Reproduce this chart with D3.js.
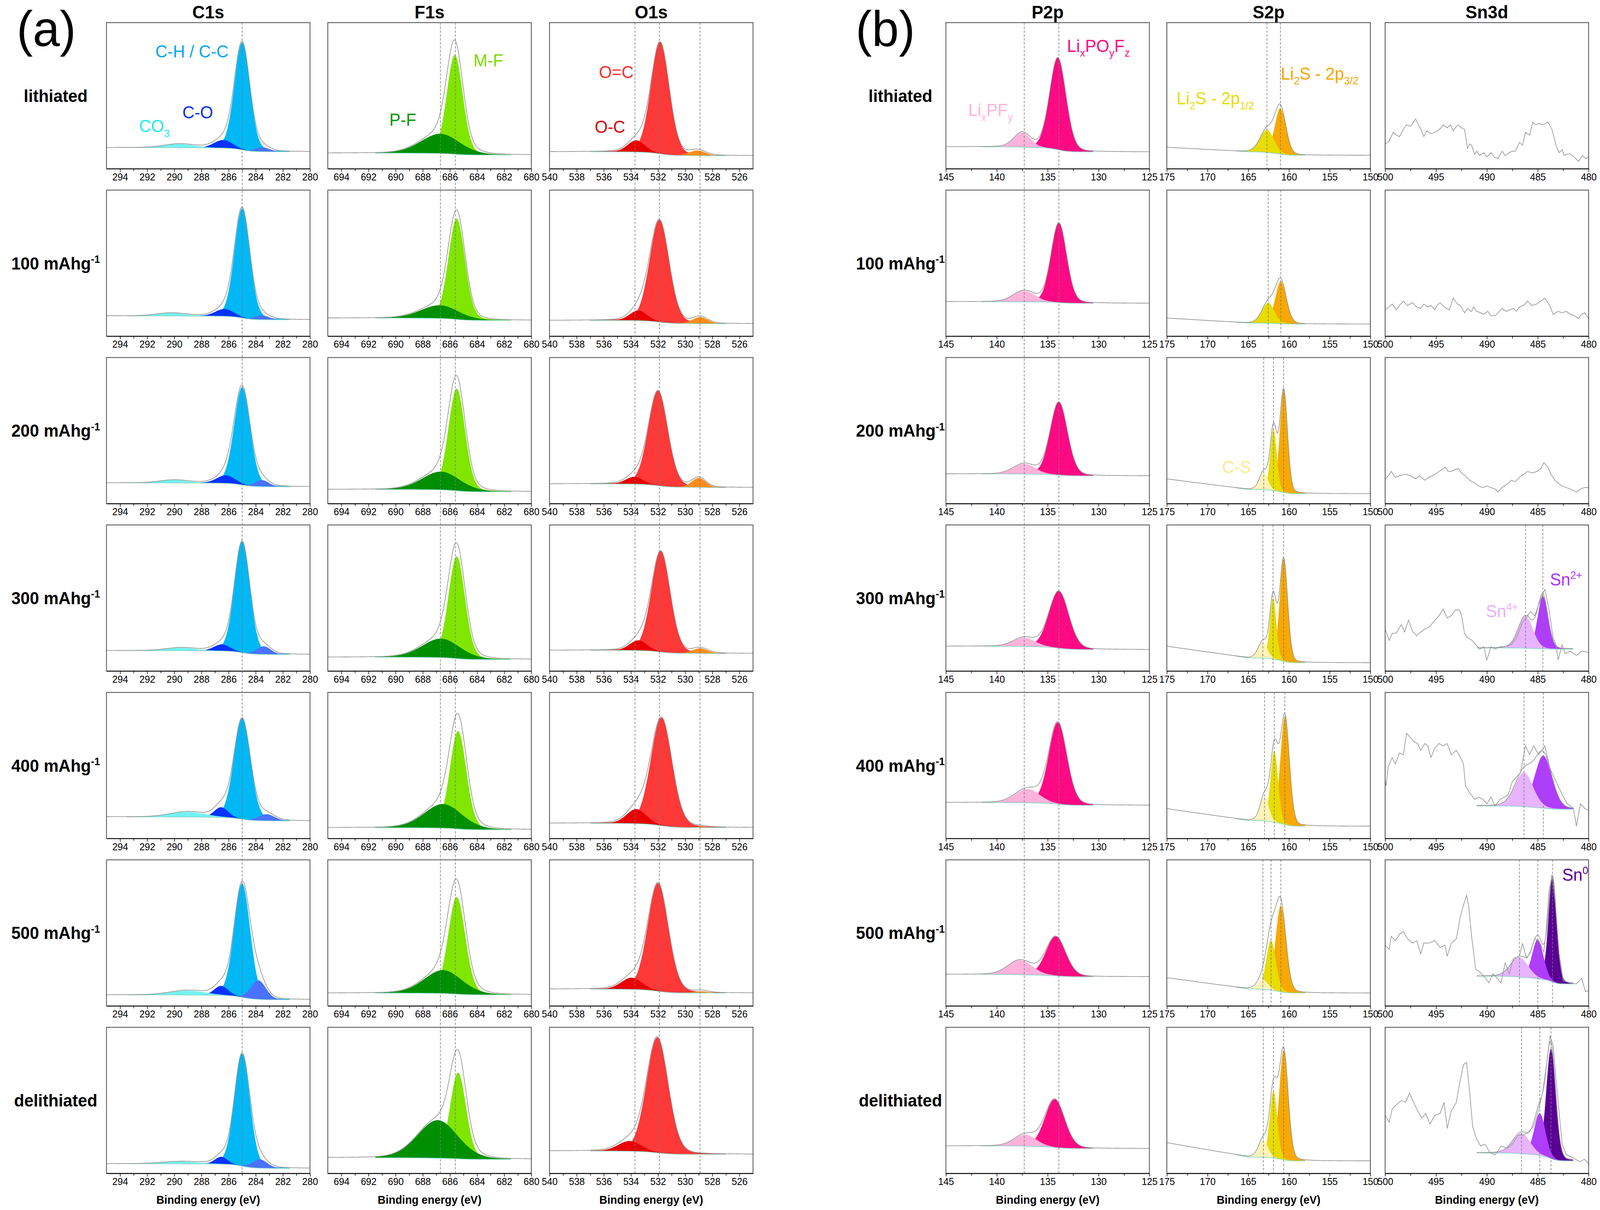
<!DOCTYPE html>
<html lang="en">
<head>
<meta charset="utf-8">
<title>XPS spectra</title>
<script src="https://d3js.org/d3.v7.min.js"></script>
<style>
  html, body { margin: 0; padding: 0; width: 100%; height: 100%; background: #fff; overflow: hidden; }
</style>
</head>
<body>
<script>
// ---------------- data (intensities normalised to panel height, 0 = axis, 1 = top) ----------------

const rowLabels = ["lithiated", "100", "200", "300", "400", "500", "delithiated"];

// C1s : [C-H/C-C, C-O, CO3, low-BE shoulder]  each [centre eV, height, fwhm]
const c1sDomain = [295, 280];
const c1sTicks = [294, 292, 290, 288, 286, 284, 282, 280];
const c1sFit = [293.5, 281.5];
const c1sRefs = [285.0];
const c1sPeaks = [
  [[285.0, 0.735, 1.35], [286.4, 0.055, 1.6], [289.6, 0.025, 2.6], [283.5, 0.03, 1.2]],
  [[285.0, 0.75, 1.35], [286.3, 0.05, 1.6], [290.2, 0.02, 2.5], [283.55, 0.03, 1.2]],
  [[285.0, 0.67, 1.4], [286.2, 0.055, 1.6], [290.0, 0.02, 2.5], [283.55, 0.045, 1.2]],
  [[285.0, 0.76, 1.35], [286.5, 0.045, 1.4], [289.5, 0.02, 2.6], [283.4, 0.055, 1.2]],
  [[285.0, 0.69, 1.45], [286.55, 0.07, 1.2], [289.0, 0.035, 3.0], [283.2, 0.045, 1.4]],
  [[285.0, 0.78, 1.4], [286.55, 0.065, 1.2], [289.0, 0.03, 3.0], [283.8, 0.13, 1.3]],
  [[285.0, 0.77, 1.35], [286.55, 0.05, 1.1], [289.5, 0.015, 3.2], [283.7, 0.06, 1.3]]
];
const c1sBg = [[0.145, 0.116], [0.139, 0.112], [0.142, 0.115], [0.14, 0.113], [0.148, 0.12], [0.076, 0.042], [0.066, 0.034]];

// F1s : [M-F, P-F]
const f1sDomain = [695, 680];
const f1sTicks = [694, 692, 690, 688, 686, 684, 682, 680];
const f1sFit = [691.5, 681.5];
const f1sRefs = [686.7, 685.6];
const f1sPeaks = [
  [[685.64, 0.68, 1.4], [686.7, 0.135, 3.4]],
  [[685.5, 0.69, 1.45], [686.75, 0.09, 3.3]],
  [[685.5, 0.70, 1.45], [686.65, 0.125, 3.3]],
  [[685.5, 0.70, 1.45], [686.65, 0.13, 3.3]],
  [[685.4, 0.67, 1.45], [686.5, 0.165, 3.3]],
  [[685.5, 0.665, 1.5], [686.5, 0.16, 3.3]],
  [[685.4, 0.59, 1.4], [686.9, 0.26, 3.5]]
];
const f1sBg = [[0.107, 0.094], [0.124, 0.108], [0.097, 0.081], [0.095, 0.079], [0.074, 0.06], [0.088, 0.076], [0.107, 0.096]];

// O1s : [O=C, O-C, ~529 eV]
const o1sDomain = [540, 525];
const o1sTicks = [540, 538, 536, 534, 532, 530, 528, 526];
const o1sFit = [537, 527];
const o1sRefs = [533.7, 531.9, 528.9];
const o1sPeaks = [
  [[531.85, 0.765, 1.6], [533.6, 0.08, 1.5], [529.1, 0.035, 1.4]],
  [[531.9, 0.70, 1.7], [533.45, 0.07, 1.5], [528.9, 0.045, 1.3]],
  [[532.0, 0.65, 1.7], [533.75, 0.05, 1.5], [529.0, 0.065, 1.2]],
  [[531.8, 0.69, 1.65], [533.45, 0.07, 1.5], [528.9, 0.035, 1.3]],
  [[531.75, 0.74, 1.85], [533.6, 0.10, 1.7], [528.9, 0.006, 1.2]],
  [[532.0, 0.74, 1.8], [533.95, 0.08, 1.8], [528.8, 0.012, 1.2]],
  [[532.05, 0.79, 1.9], [534.1, 0.07, 2.0], null]
];
const o1sBg = [[0.116, 0.089], [0.108, 0.085], [0.135, 0.11], [0.142, 0.12], [0.104, 0.074], [0.115, 0.088], [0.153, 0.13]];

// P2p : [LixPOyFz, LixPFy]
const p2pDomain = [145, 125];
const p2pTicks = [145, 140, 135, 130, 125];
const p2pFit = [141.5, 130.5];
const p2pRefs = [137.3, 133.9];
const p2pPeaks = [
  [[134.0, 0.63, 1.9], [137.5, 0.10, 1.9]],
  [[133.9, 0.545, 1.8], [137.3, 0.075, 2.5]],
  [[133.9, 0.50, 2.0], [137.3, 0.07, 2.5]],
  [[133.9, 0.39, 2.3], [137.3, 0.06, 2.5]],
  [[134.0, 0.56, 2.1], [137.0, 0.095, 2.8]],
  [[134.2, 0.27, 2.3], [137.7, 0.10, 2.8]],
  [[134.3, 0.33, 2.3], [137.2, 0.08, 2.5]]
];
const p2pBg = [[0.15, 0.115], [0.236, 0.225], [0.203, 0.19], [0.17, 0.147], [0.246, 0.227], [0.216, 0.20], [0.188, 0.17]];

// S2p : [Li2S 2p3/2, Li2S 2p1/2, C-S]   background [level at 165 eV, low-BE level, rise 165->175 eV]
const s2pDomain = [175, 150];
const s2pTicks = [175, 170, 165, 160, 155, 150];
const s2pFit = [166.5, 158];
const s2pPeaks = [
  [[161.05, 0.315, 1.6], [162.7, 0.155, 2.0], null],
  [[161.0, 0.29, 1.6], [162.55, 0.14, 1.8], null],
  [[160.65, 0.70, 1.1], [161.9, 0.42, 0.95], [163.1, 0.12, 1.2]],
  [[160.65, 0.70, 1.15], [161.95, 0.42, 0.95], [163.2, 0.11, 1.3]],
  [[160.5, 0.74, 1.3], [161.8, 0.49, 1.1], [163.0, 0.17, 1.2]],
  [[161.0, 0.59, 1.5], [162.2, 0.34, 1.4], [163.2, 0.065, 1.5]],
  [[160.65, 0.75, 1.3], [161.9, 0.46, 1.1], [163.15, 0.12, 1.3]]
];
const s2pBg = [[0.116, 0.092, 0.031], [0.09, 0.083, 0.034], [0.097, 0.068, 0.072], [0.09, 0.057, 0.08], [0.123, 0.084, 0.081], [0.116, 0.088, 0.077], [0.112, 0.085, 0.098]];

// Sn3d : [Sn0, Sn2+, Sn4+]
const sn3dDomain = [500, 480];
const sn3dTicks = [500, 495, 490, 485, 480];
const sn3dFit = [491, 481.5];
const sn3dPeaks = [
  [], [], [],
  [null, [484.5, 0.36, 1.2], [486.2, 0.22, 1.7]],
  [null, [484.45, 0.36, 2.0], [486.35, 0.235, 2.1]],
  [[483.55, 0.71, 0.95], [485.0, 0.27, 1.3], [486.8, 0.135, 2.0]],
  [[483.7, 0.75, 1.1], [484.8, 0.29, 1.3], [486.6, 0.14, 2.0]]
];
const sn3dBg = [[0, 0], [0, 0], [0, 0], [0.158, 0.15], [0.223, 0.20], [0.204, 0.15], [0.14, 0.085]];

// Sn3d measured traces [eV, intensity]
const sn3dRaw = [
  [[500,0.17],[499.6,0.19],[499.2,0.25],[498.9,0.23],[498.6,0.22],[498.2,0.27],[497.9,0.30],[497.5,0.29],[497.0,0.34],[496.7,0.30],[496.5,0.27],[496.2,0.22],[495.9,0.26],[495.5,0.24],[495.1,0.25],[494.8,0.26],[494.5,0.28],[494.3,0.30],[493.9,0.28],[493.6,0.30],[493.3,0.26],[493.0,0.29],[492.8,0.30],[492.5,0.28],[492.2,0.27],[491.9,0.14],[491.7,0.17],[491.5,0.16],[491.2,0.10],[491.0,0.12],[490.7,0.09],[490.3,0.11],[490.0,0.08],[489.6,0.11],[489.3,0.08],[488.9,0.07],[488.5,0.12],[488.2,0.09],[487.8,0.11],[487.5,0.12],[487.2,0.12],[486.8,0.18],[486.5,0.16],[486.2,0.25],[485.8,0.23],[485.5,0.32],[485.2,0.30],[484.9,0.31],[484.5,0.30],[484.0,0.32],[483.6,0.27],[483.2,0.16],[482.9,0.11],[482.6,0.13],[482.4,0.09],[482.1,0.10],[481.8,0.10],[481.4,0.08],[481.0,0.05],[480.6,0.09],[480.3,0.07],[480.0,0.08]],
  [[500,0.18],[499.6,0.2],[499.3,0.22],[498.9,0.18],[498.6,0.21],[498.2,0.24],[497.8,0.21],[497.3,0.23],[496.9,0.2],[496.5,0.19],[496.2,0.22],[495.8,0.2],[495.5,0.21],[495.1,0.18],[494.9,0.21],[494.6,0.23],[494.2,0.2],[493.7,0.18],[493.3,0.26],[492.9,0.22],[492.6,0.21],[492.2,0.16],[491.9,0.19],[491.5,0.17],[491.3,0.2],[491.0,0.17],[490.6,0.16],[490.3,0.15],[489.9,0.17],[489.6,0.14],[489.2,0.14],[488.9,0.16],[488.5,0.19],[488.1,0.17],[487.8,0.18],[487.4,0.19],[487.1,0.17],[486.8,0.2],[486.4,0.21],[486.0,0.24],[485.6,0.21],[485.1,0.22],[484.7,0.24],[484.3,0.26],[484.0,0.23],[483.7,0.19],[483.5,0.15],[483.0,0.17],[482.6,0.16],[482.2,0.17],[481.8,0.15],[481.4,0.14],[481.0,0.12],[480.7,0.15],[480.4,0.16],[480.0,0.12]],
  [[500,0.17],[499.7,0.19],[499.4,0.22],[499.0,0.18],[498.6,0.19],[498.2,0.2],[497.9,0.2],[497.5,0.19],[497.0,0.17],[496.6,0.19],[496.1,0.16],[495.7,0.18],[495.1,0.2],[494.7,0.22],[494.1,0.25],[493.8,0.22],[493.5,0.22],[493.2,0.23],[492.8,0.24],[492.5,0.21],[492.1,0.19],[491.7,0.16],[491.2,0.14],[490.8,0.12],[490.4,0.11],[490.0,0.12],[489.6,0.11],[489.2,0.1],[488.9,0.08],[488.5,0.11],[488.2,0.125],[487.9,0.14],[487.6,0.16],[487.2,0.15],[486.8,0.18],[486.4,0.2],[486.0,0.22],[485.5,0.21],[485.1,0.22],[484.7,0.24],[484.4,0.28],[484.0,0.25],[483.7,0.2],[483.3,0.16],[483.0,0.14],[482.6,0.12],[482.2,0.11],[481.8,0.1],[481.5,0.09],[481.2,0.08],[480.8,0.1],[480.4,0.11],[480.0,0.11]],
  [[500,0.288],[499.6,0.21],[499.3,0.258],[498.9,0.26],[498.4,0.318],[498.1,0.267],[497.7,0.348],[497.3,0.27],[496.9,0.242],[496.5,0.267],[496.1,0.288],[495.7,0.30],[495.1,0.348],[494.7,0.379],[494.3,0.424],[493.9,0.364],[493.5,0.379],[493.1,0.418],[492.7,0.418],[492.5,0.388],[492.2,0.258],[491.9,0.227],[491.5,0.212],[491.1,0.182],[490.7,0.15],[490.3,0.167],[490.0,0.076],[489.6,0.167],[489.2,0.15],[488.7,0.167],[488.2,0.167],[487.6,0.18],[487.1,0.227],[486.5,0.333],[486.0,0.379],[485.7,0.409],[485.3,0.379],[484.9,0.455],[484.5,0.53],[484.3,0.56],[483.9,0.424],[483.5,0.227],[483.2,0.18],[483.0,0.076],[482.6,0.18],[482.3,0.12],[481.8,0.136],[481.2,0.106],[480.7,0.136],[480.0,0.127]],
  [[500,0.405],[499.9,0.36],[499.7,0.494],[499.3,0.555],[499.0,0.51],[498.6,0.585],[498.2,0.573],[497.9,0.72],[497.5,0.69],[497.2,0.665],[496.8,0.65],[496.5,0.604],[496.1,0.65],[495.8,0.634],[495.5,0.555],[495.1,0.62],[494.7,0.65],[494.3,0.634],[493.9,0.65],[493.5,0.573],[493.0,0.604],[492.6,0.555],[492.3,0.51],[492.1,0.36],[491.7,0.314],[491.2,0.268],[490.8,0.283],[490.4,0.268],[490.0,0.238],[489.6,0.283],[489.2,0.223],[488.7,0.268],[488.3,0.283],[487.9,0.30],[487.5,0.39],[487.1,0.42],[486.7,0.45],[486.2,0.634],[485.8,0.573],[485.4,0.634],[484.9,0.573],[484.3,0.634],[483.8,0.48],[483.2,0.39],[482.6,0.30],[482.1,0.238],[481.5,0.207],[481.2,0.085],[480.8,0.238],[480.4,0.207],[480.0,0.192]],
  [[500,0.416],[499.6,0.386],[499.4,0.477],[499.0,0.447],[498.6,0.49],[498.2,0.51],[497.8,0.46],[497.3,0.43],[496.9,0.447],[496.5,0.356],[496.2,0.43],[495.7,0.43],[495.1,0.447],[494.6,0.40],[494.1,0.416],[493.9,0.34],[493.5,0.43],[493.0,0.46],[492.6,0.614],[492.3,0.69],[492.0,0.757],[491.8,0.69],[491.5,0.477],[491.1,0.25],[490.7,0.234],[490.3,0.204],[489.8,0.158],[489.4,0.22],[489.0,0.19],[488.6,0.158],[488.2,0.295],[487.8,0.22],[487.4,0.325],[486.8,0.34],[486.5,0.43],[486.1,0.325],[485.7,0.37],[485.3,0.46],[484.9,0.447],[484.4,0.37],[484.2,0.49],[483.9,0.78],[483.6,0.90],[483.3,0.72],[482.9,0.356],[482.5,0.173],[481.9,0.158],[481.2,0.15],[480.7,0.19],[480.3,0.097],[480.0,0.106]],
  [[500,0.398],[499.6,0.35],[499.3,0.44],[498.9,0.47],[498.4,0.50],[498.0,0.486],[497.6,0.548],[497.2,0.486],[496.8,0.428],[496.4,0.38],[496.0,0.41],[495.6,0.337],[495.1,0.398],[494.6,0.41],[494.2,0.486],[493.9,0.307],[493.5,0.428],[493.0,0.486],[492.7,0.61],[492.3,0.744],[492.0,0.76],[491.7,0.563],[491.4,0.322],[491.0,0.232],[490.6,0.187],[490.2,0.20],[489.7,0.142],[489.2,0.127],[488.6,0.187],[488.0,0.172],[487.5,0.20],[486.9,0.262],[486.4,0.262],[486.0,0.277],[485.4,0.322],[484.9,0.44],[484.5,0.563],[484.1,0.76],[483.8,0.94],[483.5,0.88],[483.1,0.563],[482.6,0.20],[482.2,0.127],[481.6,0.11],[480.9,0.08],[480.4,0.096],[480.0,0.066]]
];

// peak annotations: [column, row, text segments, start eV, height]
const annotations = [
  ["C1s", 0, [["C-H / C-C"]], 291.4, 0.762, "#00a8f0"],
  ["C1s", 0, [["C-O"]], 289.4, 0.345, "#0530f5"],
  ["C1s", 0, [["CO"], ["3", "sub"]], 292.6, 0.25, "#20eaf0"],
  ["F1s", 0, [["M-F"]], 684.26, 0.70, "#7ddc00"],
  ["F1s", 0, [["P-F"]], 690.46, 0.294, "#009a00"],
  ["O1s", 0, [["O=C"]], 536.36, 0.62, "#ff3030"],
  ["O1s", 0, [["O-C"]], 536.67, 0.246, "#e00000"],
  ["P2p", 0, [["Li"], ["x", "sub"], ["PO"], ["y", "sub"], ["F"], ["z", "sub"]], 133.1, 0.80, "#ff0a84"],
  ["P2p", 0, [["Li"], ["x", "sub"], ["PF"], ["y", "sub"]], 142.8, 0.36, "#ffb3d9"],
  ["S2p", 0, [["Li"], ["2", "sub"], ["S - 2p"], ["1/2", "sub"]], 173.8, 0.44, "#e8dc00"],
  ["S2p", 0, [["Li"], ["2", "sub"], ["S - 2p"], ["3/2", "sub"]], 161.0, 0.61, "#f8a400"],
  ["S2p", 2, [["C-S"]], 168.2, 0.21, "#ffe88a"],
  ["Sn3d", 3, [["Sn"], ["2+", "sup"]], 483.8, 0.587, "#b030ff"],
  ["Sn3d", 3, [["Sn"], ["4+", "sup"]], 490.1, 0.37, "#e8b0ff"],
  ["Sn3d", 5, [["Sn"], ["0", "sup"]], 482.6, 0.857, "#5a0096"]
];

// ---------------- layout ----------------
const W = 4222, H = 3098;
const PW = 537, PH = 374, ROW0 = 58, ROWSTEP = 428.7;
const rowTop = r => ROW0 + r * ROWSTEP;
const FONT = "'Liberation Sans', Arial, Helvetica, sans-serif";

const columns = [
  {name: "C1s", x0: 281, domain: c1sDomain, ticks: c1sTicks, fit: c1sFit, peaks: c1sPeaks, bg: c1sBg,
   colors: ["#00b8f5", "#0633ff", "#74f2f2", "#4a72ff"], refs: c1sRefs},
  {name: "F1s", x0: 865, domain: f1sDomain, ticks: f1sTicks, fit: f1sFit, peaks: f1sPeaks, bg: f1sBg,
   colors: ["#80e600", "#008f00"], refs: f1sRefs},
  {name: "O1s", x0: 1450, domain: o1sDomain, ticks: o1sTicks, fit: o1sFit, peaks: o1sPeaks, bg: o1sBg,
   colors: ["#ff3838", "#e80000", "#ff8c1a"], refs: o1sRefs},
  {name: "P2p", x0: 2496, domain: p2pDomain, ticks: p2pTicks, fit: p2pFit, peaks: p2pPeaks, bg: p2pBg,
   colors: ["#ff0a84", "#ffb3dc"], refs: p2pRefs},
  {name: "S2p", x0: 3079, domain: s2pDomain, ticks: s2pTicks, fit: s2pFit, peaks: s2pPeaks, bg: s2pBg,
   colors: ["#f8a800", "#e8dc00", "#fff3b8"], knee: 165, panelRefs: true},
  {name: "Sn3d", x0: 3655, domain: sn3dDomain, ticks: sn3dTicks, fit: sn3dFit, peaks: sn3dPeaks, bg: sn3dBg,
   colors: ["#5a0096", "#b03cff", "#e8b4ff"], raw: sn3dRaw, panelRefs: true}
];

// the drawing is laid out in a 4222 x 3098 box and stretched to fill the window
const svg = d3.select("body")
              .append("svg")
              .attr("viewBox", "0 0 " + W + " " + H)
              .attr("preserveAspectRatio", "none")
              .attr("width", "100%")
              .attr("height", "100%")
              .style("display", "block");

svg.append("rect").attr("width", W).attr("height", H).attr("fill", "#fff");

// pseudo-Voigt line shape
const shape = (e, k) => {
  const t = (e - k.c) / k.w;
  return k.h * (0.85 * Math.exp(-4 * Math.LN2 * t * t) + 0.15 / (1 + 4 * t * t));
};

// text with sub/superscripts
function richText(parent, x, y, segs, fs, color) {
  const t = parent.append("text")
                  .attr("x", x)
                  .attr("y", y)
                  .attr("font-family", FONT)
                  .attr("font-size", fs)
                  .attr("fill", color);
  let shift = 0;
  segs.forEach(([s, kind]) => {
    const target = kind === "sub" ? fs * 0.28 : kind === "sup" ? -fs * 0.38 : 0;
    t.append("tspan")
     .attr("dy", target - shift)
     .attr("font-size", kind ? fs * 0.62 : fs)
     .text(s);
    shift = target;
  });
  return t;
}

const scales = {};

function drawPanel(col, r) {
  const top = rowTop(r), bottom = top + PH;
  const x = d3.scaleLinear().domain(col.domain).range([col.x0, col.x0 + PW]);
  const y = d3.scaleLinear().domain([0, 1]).range([bottom, top]);
  scales[col.name + r] = {x, y};

  const clipId = "clip-" + col.name + "-" + r;
  svg.append("clipPath").attr("id", clipId)
     .append("rect").attr("x", col.x0).attr("y", top).attr("width", PW).attr("height", PH);
  const plot = svg.append("g").attr("clip-path", "url(#" + clipId + ")");

  const comps = col.peaks[r]
      .map((p, i) => p && {c: p[0], h: p[1], w: p[2], color: col.colors[i]})
      .filter(Boolean);

  if (comps.length) {
    const [hiE, loE] = col.domain;
    const step = (hiE - loE) / 900;
    const es = d3.range(loE, hiE + step / 2, step);
    const sum = e => d3.sum(comps, k => shape(e, k));
    // Shirley-type background
    let acc = 0;
    const cum = es.map((e, i) => {
      if (i > 0) acc += (sum(e) + sum(es[i - 1])) / 2 * step;
      return acc;
    });
    const bgv = col.bg[r];
    const pts = es.map((e, i) => {
      let b = bgv[1] + (bgv[0] - bgv[1]) * cum[i] / acc;
      if (col.knee && bgv[2]) b += bgv[2] * Math.max(0, Math.min(1, (e - col.knee) / (hiE - col.knee)));
      return {e, b, s: sum(e)};
    });
    const inFit = pts.filter(p => p.e <= col.fit[0] && p.e >= col.fit[1]);

    comps.slice().sort((a, b) => b.h - a.h).forEach(k => {
      plot.append("path")
          .datum(inFit)
          .attr("fill", k.color)
          .attr("d", d3.area()
                       .x(p => x(p.e))
                       .y0(p => y(p.b))
                       .y1(p => y(p.b + shape(p.e, k))));
    });

    // background line
    plot.append("path")
        .datum(inFit)
        .attr("fill", "none")
        .attr("stroke", "#7fd6c2")
        .attr("stroke-width", 1.6)
        .attr("d", d3.line().x(p => x(p.e)).y(p => y(p.b)));

    // envelope
    plot.append("path")
        .datum(col.raw ? inFit : pts)
        .attr("fill", "none")
        .attr("stroke", "#8c8c8c")
        .attr("stroke-width", 1.6)
        .attr("d", d3.line().x(p => x(p.e)).y(p => y(p.b + p.s)));

    if (col.panelRefs) {
      plot.selectAll(null)
          .data(comps)
          .enter()
          .append("line")
          .attr("x1", k => x(k.c)).attr("x2", k => x(k.c))
          .attr("y1", top).attr("y2", bottom)
          .attr("stroke", "#7a7a7a")
          .attr("stroke-width", 1.6)
          .attr("stroke-dasharray", "6,4");
    }
  }

  if (col.raw) {
    plot.append("path")
        .datum(col.raw[r])
        .attr("fill", "none")
        .attr("stroke", "#9a9a9a")
        .attr("stroke-width", 1.8)
        .attr("d", d3.line().x(d => x(d[0])).y(d => y(d[1])));
  }

  // frame
  svg.append("rect")
     .attr("x", col.x0).attr("y", top)
     .attr("width", PW).attr("height", PH)
     .attr("fill", "none")
     .attr("stroke", "#4a4a4a")
     .attr("stroke-width", 2);

  // bottom axis
  const minor = d3.pairs(col.ticks).map(([a, b]) => (a + b) / 2);
  const gMinor = svg.append("g")
                    .attr("transform", "translate(0," + bottom + ")")
                    .call(d3.axisBottom(x).tickValues(minor).tickSize(6).tickSizeOuter(0).tickFormat(""));
  gMinor.select(".domain").remove();
  gMinor.selectAll("line").attr("stroke", "#000").attr("stroke-width", 1.5);

  const gAxis = svg.append("g")
                   .attr("transform", "translate(0," + bottom + ")")
                   .call(d3.axisBottom(x).tickValues(col.ticks).tickSize(8).tickSizeOuter(0).tickPadding(4).tickFormat(d => d));
  gAxis.select(".domain").attr("stroke", "#000").attr("stroke-width", 2);
  gAxis.selectAll("line").attr("stroke", "#000").attr("stroke-width", 1.5);
  gAxis.selectAll("text").attr("font-family", FONT).attr("font-size", 25).attr("fill", "#000");
}

columns.forEach(col => rowLabels.forEach((_, r) => drawPanel(col, r)));

// column-wide reference lines
columns.filter(c => c.refs).forEach(col => {
  const x = scales[col.name + 0].x;
  svg.selectAll(null)
     .data(col.refs)
     .enter()
     .append("line")
     .attr("x1", d => x(d)).attr("x2", d => x(d))
     .attr("y1", rowTop(0)).attr("y2", rowTop(6) + PH)
     .attr("stroke", "#7a7a7a")
     .attr("stroke-width", 1.6)
     .attr("stroke-dasharray", "6,4");
});

// peak labels
annotations.forEach(([name, r, segs, e, v, color]) => {
  const s = scales[name + r];
  richText(svg, s.x(e), s.y(v), segs, 44, color);
});

// column titles and axis titles
columns.forEach(col => {
  svg.append("text")
     .attr("x", col.x0 + PW / 2)
     .attr("y", 47)
     .attr("text-anchor", "middle")
     .attr("font-family", FONT)
     .attr("font-weight", "bold")
     .attr("font-size", 46)
     .text(col.name);

  svg.append("text")
     .attr("x", col.x0 + PW / 2)
     .attr("y", 3082)
     .attr("text-anchor", "middle")
     .attr("font-family", FONT)
     .attr("font-weight", "bold")
     .attr("font-size", 29)
     .text("Binding energy (eV)");
});

// row labels
[147, 2376].forEach(cx => {
  rowLabels.forEach((lab, r) => {
    const segs = isNaN(+lab) ? [[lab]] : [[lab + " mAhg"], ["-1", "sup"]];
    richText(svg, cx, rowTop(r) + PH / 2 + 16, segs, 44, "#000")
      .attr("text-anchor", "middle")
      .attr("font-weight", "bold");
  });
});

// panel letters
[["(a)", 44], ["(b)", 2258]].forEach(([t, xx]) => {
  svg.append("text")
     .attr("x", xx)
     .attr("y", 118)
     .attr("font-family", FONT)
     .attr("font-size", 128)
     .text(t);
});
</script>
</body>
</html>
